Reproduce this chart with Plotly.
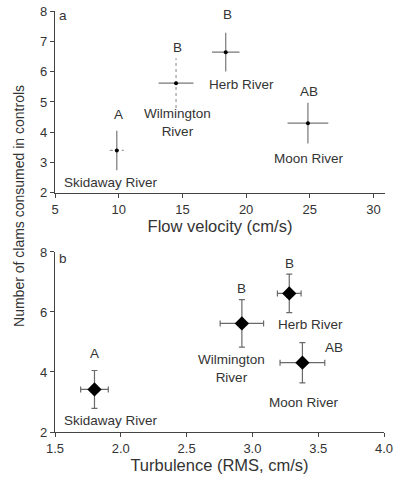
import plotly.graph_objects as go

rivers = ["Skidaway River", "Wilmington River", "Herb River", "Moon River"]
labels_txt = ["Skidaway River", "Wilmington<br>River", "Herb River", "Moon River"]
letters = ["A", "B", "B", "AB"]
clams = [3.4, 5.62, 6.64, 4.30]
clams_se = [0.65, 0.82, 0.64, 0.67]

flow = [9.85, 14.5, 18.4, 24.85]
flow_se = [0.55, 1.37, 1.08, 1.6]

turb = [1.80, 2.92, 3.28, 3.38]
turb_se = [0.105, 0.165, 0.09, 0.17]
clams_b = [3.42, 5.62, 6.62, 4.31]
clams_b_se = [0.63, 0.79, 0.64, 0.67]

# label positions (data units)
lab_a = [(9.43, 2.33), (14.6, 4.31), (19.6, 5.56), (24.94, 3.12)]
let_a = [(9.95, 4.57), (14.6, 6.78), (18.5, 7.87), (24.94, 5.33)]
lab_b = [(1.925, 2.4), (2.84, 4.13), (3.44, 5.57), (3.39, 3.0)]
let_b = [(1.80, 4.6), (2.92, 6.77), (3.28, 7.63), (3.62, 4.8)]

GRAY = "#6a6a6a"
TXT = "#333333"
LS = 13.5
fig = go.Figure()

solid_x = [False, True, True, True]
solid_y = [True, False, True, True]
for i in range(4):
    xs = [flow[i] - flow_se[i], flow[i] + flow_se[i]]
    ys = [clams[i] - clams_se[i], clams[i] + clams_se[i]]
    fig.add_trace(go.Scatter(x=xs, y=[clams[i], clams[i]], mode="lines",
                             line=dict(color="#777777" if solid_x[i] else "#999999", width=1.2,
                                       dash="solid" if solid_x[i] else "dot"),
                             xaxis="x", yaxis="y", showlegend=False, hoverinfo="skip"))
    fig.add_trace(go.Scatter(x=[flow[i], flow[i]], y=ys, mode="lines",
                             line=dict(color="#777777" if solid_y[i] else "#999999", width=1.2,
                                       dash="solid" if solid_y[i] else "dot"),
                             xaxis="x", yaxis="y", showlegend=False, hoverinfo="skip"))

fig.add_trace(go.Scatter(x=flow, y=clams, mode="markers", marker=dict(color="black", size=4),
                         xaxis="x", yaxis="y", showlegend=False))

fig.add_trace(go.Scatter(x=turb, y=clams_b, mode="markers",
                         marker=dict(color="black", size=11, symbol="diamond"),
                         error_x=dict(type="data", array=turb_se, color=GRAY, thickness=1.2, width=3),
                         error_y=dict(type="data", array=clams_b_se, color=GRAY, thickness=1.2, width=3),
                         xaxis="x2", yaxis="y2", showlegend=False))

ann = []
for i in range(4):
    ann.append(dict(x=lab_a[i][0], y=lab_a[i][1], text=labels_txt[i], xref="x", yref="y", showarrow=False,
                    font=dict(size=LS, color=TXT), align="center"))
    ann.append(dict(x=let_a[i][0], y=let_a[i][1], text=letters[i], xref="x", yref="y", showarrow=False,
                    font=dict(size=LS, color=TXT)))
    ann.append(dict(x=lab_b[i][0], y=lab_b[i][1], text=labels_txt[i], xref="x2", yref="y2", showarrow=False,
                    font=dict(size=LS, color=TXT), align="center"))
    ann.append(dict(x=let_b[i][0], y=let_b[i][1], text=letters[i], xref="x2", yref="y2", showarrow=False,
                    font=dict(size=LS, color=TXT)))
ann.append(dict(x=5.63, y=7.84, text="a", xref="x", yref="y", showarrow=False, font=dict(size=LS, color=TXT)))
ann.append(dict(x=1.56, y=7.77, text="b", xref="x2", yref="y2", showarrow=False, font=dict(size=LS, color=TXT)))
ann.append(dict(x=-0.109, y=0.537, xref="paper", yref="paper", text="Number of clams consumed in controls",
                textangle=-90, showarrow=False, xanchor="center", yanchor="middle",
                font=dict(size=14, color=TXT)))

axis_common = dict(showgrid=False, zeroline=False, showline=True, linecolor="#444444", linewidth=1.3,
                   ticks="outside", ticklen=4, tickcolor="#444444", tickfont=dict(size=13, color=TXT),
                   automargin=False)

fig.update_layout(
    width=397, height=478,
    margin=dict(l=55, r=12, t=11, b=46),
    plot_bgcolor="white", paper_bgcolor="white",
    font=dict(family="Arial, Liberation Sans, sans-serif", color=TXT),
    annotations=ann,
    xaxis=dict(**axis_common, domain=[0, 1], range=[5, 30.9], tickvals=[5, 10, 15, 20, 25, 30], anchor="y",
               title=dict(text="Flow velocity (cm/s)", font=dict(size=16.5, color=TXT), standoff=4)),
    yaxis=dict(**axis_common, domain=[0.568, 1], range=[2, 8], tickvals=[2, 3, 4, 5, 6, 7, 8], anchor="x"),
    xaxis2=dict(**axis_common, domain=[0, 0.997], range=[1.5, 4.0], tickvals=[1.5, 2.0, 2.5, 3.0, 3.5, 4.0],
                tickformat=".1f", anchor="y2",
                title=dict(text="Turbulence (RMS, cm/s)", font=dict(size=16.5, color=TXT), standoff=4)),
    yaxis2=dict(**axis_common, domain=[0, 0.4276], range=[2, 8], tickvals=[2, 4, 6, 8], anchor="x2"),
)

fig.write_html("out.html", config={"displayModeBar": False},
               post_script="document.body.style.margin='0';")
